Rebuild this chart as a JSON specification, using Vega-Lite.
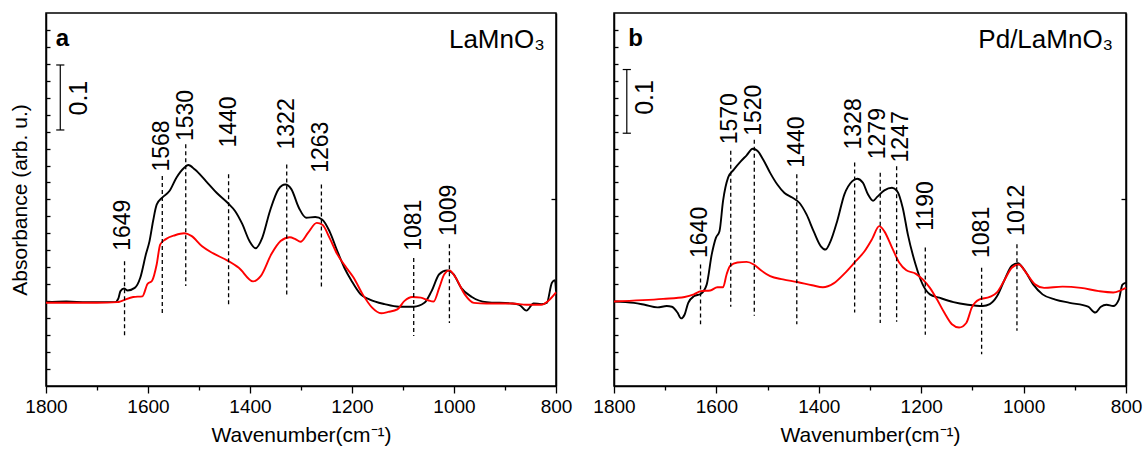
{
  "$schema": "https://vega.github.io/schema/vega-lite/v6.json",
  "background": "white",
  "autosize": {"type": "pad"},
  "padding": {"left": 8, "top": 12, "right": 5, "bottom": 5},
  "spacing": 58,
  "bounds": "flush",
  "config": {
    "font": "Liberation Sans",
    "view": {"stroke": "black", "strokeWidth": 1.5},
    "axis": {"grid": false, "domainColor": "black", "domainWidth": 1.5, "tickColor": "black", "tickWidth": 1.3, "labelColor": "black", "titleColor": "black", "labelFont": "Liberation Sans", "titleFont": "Liberation Sans", "titleFontWeight": "normal"}
  },
  "datasets": {
    "curves": [
      {"panel":"a","series":"s1","wn":1800,"abs":0.129},{"panel":"a","series":"s1","wn":1760,"abs":0.130},{"panel":"a","series":"s1","wn":1720,"abs":0.129},{"panel":"a","series":"s1","wn":1690,"abs":0.129},{"panel":"a","series":"s1","wn":1665,"abs":0.129},{"panel":"a","series":"s1","wn":1658,"abs":0.135},{"panel":"a","series":"s1","wn":1654,"abs":0.146},{"panel":"a","series":"s1","wn":1647,"abs":0.150},{"panel":"a","series":"s1","wn":1640,"abs":0.147},{"panel":"a","series":"s1","wn":1626,"abs":0.151},{"panel":"a","series":"s1","wn":1615,"abs":0.167},{"panel":"a","series":"s1","wn":1604,"abs":0.203},{"panel":"a","series":"s1","wn":1597,"abs":0.223},{"panel":"a","series":"s1","wn":1590,"abs":0.254},{"panel":"a","series":"s1","wn":1583,"abs":0.279},{"panel":"a","series":"s1","wn":1572,"abs":0.290},{"panel":"a","series":"s1","wn":1558,"abs":0.300},{"panel":"a","series":"s1","wn":1544,"abs":0.321},{"panel":"a","series":"s1","wn":1529,"abs":0.336},{"panel":"a","series":"s1","wn":1521,"abs":0.340},{"panel":"a","series":"s1","wn":1508,"abs":0.333},{"panel":"a","series":"s1","wn":1486,"abs":0.315},{"panel":"a","series":"s1","wn":1465,"abs":0.297},{"panel":"a","series":"s1","wn":1444,"abs":0.282},{"panel":"a","series":"s1","wn":1429,"abs":0.269},{"panel":"a","series":"s1","wn":1415,"abs":0.249},{"panel":"a","series":"s1","wn":1401,"abs":0.223},{"panel":"a","series":"s1","wn":1389,"abs":0.212},{"panel":"a","series":"s1","wn":1376,"abs":0.228},{"panel":"a","series":"s1","wn":1361,"abs":0.269},{"panel":"a","series":"s1","wn":1344,"abs":0.303},{"panel":"a","series":"s1","wn":1331,"abs":0.310},{"panel":"a","series":"s1","wn":1319,"abs":0.303},{"panel":"a","series":"s1","wn":1304,"abs":0.274},{"panel":"a","series":"s1","wn":1290,"abs":0.259},{"panel":"a","series":"s1","wn":1272,"abs":0.260},{"panel":"a","series":"s1","wn":1258,"abs":0.256},{"panel":"a","series":"s1","wn":1244,"abs":0.238},{"panel":"a","series":"s1","wn":1229,"abs":0.208},{"panel":"a","series":"s1","wn":1215,"abs":0.182},{"panel":"a","series":"s1","wn":1201,"abs":0.162},{"panel":"a","series":"s1","wn":1183,"abs":0.141},{"panel":"a","series":"s1","wn":1165,"abs":0.133},{"panel":"a","series":"s1","wn":1136,"abs":0.126},{"panel":"a","series":"s1","wn":1108,"abs":0.122},{"panel":"a","series":"s1","wn":1079,"abs":0.122},{"panel":"a","series":"s1","wn":1058,"abs":0.128},{"panel":"a","series":"s1","wn":1044,"abs":0.146},{"panel":"a","series":"s1","wn":1029,"abs":0.172},{"panel":"a","series":"s1","wn":1014,"abs":0.178},{"panel":"a","series":"s1","wn":1001,"abs":0.172},{"panel":"a","series":"s1","wn":986,"abs":0.151},{"panel":"a","series":"s1","wn":965,"abs":0.137},{"panel":"a","series":"s1","wn":936,"abs":0.129},{"panel":"a","series":"s1","wn":886,"abs":0.127},{"panel":"a","series":"s1","wn":872,"abs":0.125},{"panel":"a","series":"s1","wn":858,"abs":0.116},{"panel":"a","series":"s1","wn":844,"abs":0.127},{"panel":"a","series":"s1","wn":829,"abs":0.126},{"panel":"a","series":"s1","wn":818,"abs":0.128},{"panel":"a","series":"s1","wn":808,"abs":0.159},{"panel":"a","series":"s1","wn":802,"abs":0.163},{"panel":"a","series":"s1","wn":800,"abs":0.146},
      {"panel":"a","series":"s2","wn":1800,"abs":0.128},{"panel":"a","series":"s2","wn":1700,"abs":0.128},{"panel":"a","series":"s2","wn":1660,"abs":0.129},{"panel":"a","series":"s2","wn":1651,"abs":0.131},{"panel":"a","series":"s2","wn":1629,"abs":0.137},{"panel":"a","series":"s2","wn":1611,"abs":0.138},{"panel":"a","series":"s2","wn":1601,"abs":0.157},{"panel":"a","series":"s2","wn":1592,"abs":0.162},{"panel":"a","series":"s2","wn":1583,"abs":0.187},{"panel":"a","series":"s2","wn":1576,"abs":0.218},{"panel":"a","series":"s2","wn":1565,"abs":0.226},{"panel":"a","series":"s2","wn":1547,"abs":0.232},{"panel":"a","series":"s2","wn":1529,"abs":0.235},{"panel":"a","series":"s2","wn":1515,"abs":0.231},{"panel":"a","series":"s2","wn":1494,"abs":0.215},{"panel":"a","series":"s2","wn":1472,"abs":0.204},{"panel":"a","series":"s2","wn":1444,"abs":0.193},{"panel":"a","series":"s2","wn":1422,"abs":0.182},{"panel":"a","series":"s2","wn":1394,"abs":0.161},{"panel":"a","series":"s2","wn":1379,"abs":0.169},{"panel":"a","series":"s2","wn":1358,"abs":0.203},{"panel":"a","series":"s2","wn":1340,"abs":0.223},{"panel":"a","series":"s2","wn":1322,"abs":0.229},{"panel":"a","series":"s2","wn":1311,"abs":0.226},{"panel":"a","series":"s2","wn":1301,"abs":0.222},{"panel":"a","series":"s2","wn":1286,"abs":0.236},{"panel":"a","series":"s2","wn":1269,"abs":0.251},{"panel":"a","series":"s2","wn":1258,"abs":0.248},{"panel":"a","series":"s2","wn":1244,"abs":0.228},{"panel":"a","series":"s2","wn":1229,"abs":0.203},{"panel":"a","series":"s2","wn":1211,"abs":0.182},{"panel":"a","series":"s2","wn":1197,"abs":0.167},{"panel":"a","series":"s2","wn":1179,"abs":0.141},{"panel":"a","series":"s2","wn":1161,"abs":0.121},{"panel":"a","series":"s2","wn":1143,"abs":0.112},{"panel":"a","series":"s2","wn":1129,"abs":0.114},{"panel":"a","series":"s2","wn":1111,"abs":0.118},{"panel":"a","series":"s2","wn":1097,"abs":0.131},{"panel":"a","series":"s2","wn":1082,"abs":0.137},{"panel":"a","series":"s2","wn":1065,"abs":0.136},{"panel":"a","series":"s2","wn":1051,"abs":0.132},{"panel":"a","series":"s2","wn":1040,"abs":0.130},{"panel":"a","series":"s2","wn":1029,"abs":0.151},{"panel":"a","series":"s2","wn":1019,"abs":0.172},{"panel":"a","series":"s2","wn":1009,"abs":0.178},{"panel":"a","series":"s2","wn":997,"abs":0.167},{"panel":"a","series":"s2","wn":979,"abs":0.141},{"panel":"a","series":"s2","wn":961,"abs":0.128},{"panel":"a","series":"s2","wn":936,"abs":0.127},{"panel":"a","series":"s2","wn":886,"abs":0.127},{"panel":"a","series":"s2","wn":858,"abs":0.125},{"panel":"a","series":"s2","wn":829,"abs":0.125},{"panel":"a","series":"s2","wn":815,"abs":0.131},{"panel":"a","series":"s2","wn":800,"abs":0.144},
      {"panel":"b","series":"s1","wn":1800,"abs":0.130},{"panel":"b","series":"s1","wn":1761,"abs":0.128},{"panel":"b","series":"s1","wn":1740,"abs":0.125},{"panel":"b","series":"s1","wn":1715,"abs":0.121},{"panel":"b","series":"s1","wn":1697,"abs":0.123},{"panel":"b","series":"s1","wn":1687,"abs":0.122},{"panel":"b","series":"s1","wn":1676,"abs":0.113},{"panel":"b","series":"s1","wn":1669,"abs":0.104},{"panel":"b","series":"s1","wn":1662,"abs":0.110},{"panel":"b","series":"s1","wn":1655,"abs":0.128},{"panel":"b","series":"s1","wn":1644,"abs":0.138},{"panel":"b","series":"s1","wn":1630,"abs":0.142},{"panel":"b","series":"s1","wn":1619,"abs":0.156},{"panel":"b","series":"s1","wn":1609,"abs":0.203},{"panel":"b","series":"s1","wn":1601,"abs":0.228},{"panel":"b","series":"s1","wn":1594,"abs":0.238},{"panel":"b","series":"s1","wn":1587,"abs":0.285},{"panel":"b","series":"s1","wn":1577,"abs":0.321},{"panel":"b","series":"s1","wn":1566,"abs":0.333},{"panel":"b","series":"s1","wn":1552,"abs":0.346},{"panel":"b","series":"s1","wn":1541,"abs":0.355},{"panel":"b","series":"s1","wn":1529,"abs":0.365},{"panel":"b","series":"s1","wn":1520,"abs":0.362},{"panel":"b","series":"s1","wn":1509,"abs":0.349},{"panel":"b","series":"s1","wn":1495,"abs":0.328},{"panel":"b","series":"s1","wn":1481,"abs":0.310},{"panel":"b","series":"s1","wn":1467,"abs":0.297},{"panel":"b","series":"s1","wn":1452,"abs":0.290},{"panel":"b","series":"s1","wn":1438,"abs":0.282},{"panel":"b","series":"s1","wn":1424,"abs":0.264},{"panel":"b","series":"s1","wn":1410,"abs":0.238},{"panel":"b","series":"s1","wn":1396,"abs":0.215},{"panel":"b","series":"s1","wn":1387,"abs":0.210},{"panel":"b","series":"s1","wn":1378,"abs":0.221},{"panel":"b","series":"s1","wn":1364,"abs":0.254},{"panel":"b","series":"s1","wn":1350,"abs":0.295},{"panel":"b","series":"s1","wn":1335,"abs":0.315},{"panel":"b","series":"s1","wn":1325,"abs":0.319},{"panel":"b","series":"s1","wn":1314,"abs":0.313},{"panel":"b","series":"s1","wn":1304,"abs":0.295},{"panel":"b","series":"s1","wn":1294,"abs":0.285},{"panel":"b","series":"s1","wn":1286,"abs":0.291},{"panel":"b","series":"s1","wn":1272,"abs":0.301},{"panel":"b","series":"s1","wn":1257,"abs":0.305},{"panel":"b","series":"s1","wn":1247,"abs":0.300},{"panel":"b","series":"s1","wn":1236,"abs":0.274},{"panel":"b","series":"s1","wn":1226,"abs":0.233},{"panel":"b","series":"s1","wn":1211,"abs":0.187},{"panel":"b","series":"s1","wn":1197,"abs":0.156},{"panel":"b","series":"s1","wn":1183,"abs":0.141},{"panel":"b","series":"s1","wn":1165,"abs":0.136},{"panel":"b","series":"s1","wn":1137,"abs":0.129},{"panel":"b","series":"s1","wn":1109,"abs":0.125},{"panel":"b","series":"s1","wn":1080,"abs":0.123},{"panel":"b","series":"s1","wn":1066,"abs":0.126},{"panel":"b","series":"s1","wn":1052,"abs":0.138},{"panel":"b","series":"s1","wn":1038,"abs":0.162},{"panel":"b","series":"s1","wn":1023,"abs":0.185},{"panel":"b","series":"s1","wn":1011,"abs":0.189},{"panel":"b","series":"s1","wn":999,"abs":0.179},{"panel":"b","series":"s1","wn":981,"abs":0.156},{"panel":"b","series":"s1","wn":963,"abs":0.141},{"panel":"b","series":"s1","wn":938,"abs":0.133},{"panel":"b","series":"s1","wn":910,"abs":0.128},{"panel":"b","series":"s1","wn":874,"abs":0.122},{"panel":"b","series":"s1","wn":860,"abs":0.113},{"panel":"b","series":"s1","wn":849,"abs":0.122},{"panel":"b","series":"s1","wn":838,"abs":0.125},{"panel":"b","series":"s1","wn":825,"abs":0.123},{"panel":"b","series":"s1","wn":814,"abs":0.133},{"panel":"b","series":"s1","wn":807,"abs":0.156},{"panel":"b","series":"s1","wn":800,"abs":0.159},
      {"panel":"b","series":"s2","wn":1800,"abs":0.130},{"panel":"b","series":"s2","wn":1704,"abs":0.134},{"panel":"b","series":"s2","wn":1662,"abs":0.137},{"panel":"b","series":"s2","wn":1644,"abs":0.141},{"panel":"b","series":"s2","wn":1630,"abs":0.146},{"panel":"b","series":"s2","wn":1612,"abs":0.147},{"panel":"b","series":"s2","wn":1598,"abs":0.152},{"panel":"b","series":"s2","wn":1587,"abs":0.152},{"panel":"b","series":"s2","wn":1580,"abs":0.172},{"panel":"b","series":"s2","wn":1573,"abs":0.185},{"panel":"b","series":"s2","wn":1559,"abs":0.190},{"panel":"b","series":"s2","wn":1541,"abs":0.191},{"panel":"b","series":"s2","wn":1527,"abs":0.187},{"panel":"b","series":"s2","wn":1513,"abs":0.178},{"panel":"b","series":"s2","wn":1495,"abs":0.169},{"panel":"b","series":"s2","wn":1470,"abs":0.164},{"panel":"b","series":"s2","wn":1442,"abs":0.160},{"panel":"b","series":"s2","wn":1413,"abs":0.155},{"panel":"b","series":"s2","wn":1392,"abs":0.152},{"panel":"b","series":"s2","wn":1371,"abs":0.158},{"panel":"b","series":"s2","wn":1350,"abs":0.173},{"panel":"b","series":"s2","wn":1328,"abs":0.192},{"panel":"b","series":"s2","wn":1311,"abs":0.207},{"panel":"b","series":"s2","wn":1296,"abs":0.226},{"panel":"b","series":"s2","wn":1282,"abs":0.246},{"panel":"b","series":"s2","wn":1272,"abs":0.238},{"panel":"b","series":"s2","wn":1257,"abs":0.213},{"panel":"b","series":"s2","wn":1243,"abs":0.190},{"panel":"b","series":"s2","wn":1229,"abs":0.178},{"panel":"b","series":"s2","wn":1211,"abs":0.173},{"panel":"b","series":"s2","wn":1197,"abs":0.164},{"panel":"b","series":"s2","wn":1183,"abs":0.151},{"panel":"b","series":"s2","wn":1169,"abs":0.133},{"panel":"b","series":"s2","wn":1155,"abs":0.113},{"panel":"b","series":"s2","wn":1140,"abs":0.095},{"panel":"b","series":"s2","wn":1126,"abs":0.090},{"panel":"b","series":"s2","wn":1112,"abs":0.097},{"panel":"b","series":"s2","wn":1101,"abs":0.121},{"panel":"b","series":"s2","wn":1087,"abs":0.133},{"panel":"b","series":"s2","wn":1066,"abs":0.137},{"panel":"b","series":"s2","wn":1052,"abs":0.144},{"panel":"b","series":"s2","wn":1038,"abs":0.162},{"panel":"b","series":"s2","wn":1023,"abs":0.182},{"panel":"b","series":"s2","wn":1009,"abs":0.187},{"panel":"b","series":"s2","wn":995,"abs":0.174},{"panel":"b","series":"s2","wn":977,"abs":0.156},{"panel":"b","series":"s2","wn":960,"abs":0.151},{"panel":"b","series":"s2","wn":924,"abs":0.153},{"panel":"b","series":"s2","wn":888,"abs":0.151},{"panel":"b","series":"s2","wn":853,"abs":0.146},{"panel":"b","series":"s2","wn":825,"abs":0.144},{"panel":"b","series":"s2","wn":811,"abs":0.147},{"panel":"b","series":"s2","wn":800,"abs":0.151}
    ],
    "peaks": [
      {"panel":"a","label":"1649","pos":1646,"tx":1649,"top":0.192,"bottom":0.077,"ly":0.208},
      {"panel":"a","label":"1568","pos":1572,"tx":1572,"top":0.323,"bottom":0.108,"ly":0.330},
      {"panel":"a","label":"1530","pos":1526,"tx":1526,"top":0.372,"bottom":0.154,"ly":0.377},
      {"panel":"a","label":"1440","pos":1442,"tx":1442,"top":0.326,"bottom":0.122,"ly":0.367},
      {"panel":"a","label":"1322","pos":1328,"tx":1328,"top":0.341,"bottom":0.137,"ly":0.364},
      {"panel":"a","label":"1263","pos":1260,"tx":1260,"top":0.310,"bottom":0.152,"ly":0.328},
      {"panel":"a","label":"1081","pos":1079,"tx":1079,"top":0.197,"bottom":0.077,"ly":0.208},
      {"panel":"a","label":"1009","pos":1009,"tx":1009,"top":0.218,"bottom":0.097,"ly":0.231},
      {"panel":"b","label":"1640","pos":1631,"tx":1633,"top":0.187,"bottom":0.095,"ly":0.197},
      {"panel":"b","label":"1570","pos":1572,"tx":1574,"top":0.362,"bottom":0.122,"ly":0.372},
      {"panel":"b","label":"1520","pos":1526,"tx":1526,"top":0.379,"bottom":0.108,"ly":0.385},
      {"panel":"b","label":"1440","pos":1443,"tx":1443,"top":0.326,"bottom":0.095,"ly":0.336},
      {"panel":"b","label":"1328","pos":1330,"tx":1331,"top":0.344,"bottom":0.113,"ly":0.364},
      {"panel":"b","label":"1279","pos":1280,"tx":1284,"top":0.328,"bottom":0.097,"ly":0.349},
      {"panel":"b","label":"1247","pos":1248,"tx":1239,"top":0.338,"bottom":0.099,"ly":0.344},
      {"panel":"b","label":"1190","pos":1192,"tx":1190,"top":0.213,"bottom":0.079,"ly":0.239},
      {"panel":"b","label":"1081","pos":1082,"tx":1082,"top":0.182,"bottom":0.049,"ly":0.197},
      {"panel":"b","label":"1012","pos":1013,"tx":1013,"top":0.218,"bottom":0.085,"ly":0.231}
    ],
    "bars": [
      {"panel":"a","x1":1772,"x2":1772,"y1":0.394,"y2":0.494},
      {"panel":"a","x1":1780,"x2":1764,"y1":0.394,"y2":0.394},
      {"panel":"a","x1":1780,"x2":1764,"y1":0.494,"y2":0.494},
      {"panel":"b","x1":1775,"x2":1775,"y1":0.389,"y2":0.487},
      {"panel":"b","x1":1783,"x2":1767,"y1":0.389,"y2":0.389},
      {"panel":"b","x1":1783,"x2":1767,"y1":0.487,"y2":0.487}
    ],
    "tags": [
      {"panel":"a","letter":"a","lx":1781,"ly":0.523,"name":"LaMnO₃","nx":822,"ny":0.520,"scale":"0.1","sx":1735,"sy":0.443},
      {"panel":"b","letter":"b","lx":1772,"ly":0.523,"name":"Pd/LaMnO₃","nx":825,"ny":0.520,"scale":"0.1","sx":1740,"sy":0.444}
    ]
  },
  "hconcat": [
    {
      "width": 510,
      "height": 373,
      "layer": [
        {
          "data": {"name": "curves"},
          "transform": [{"filter": "datum.panel === 'a'"}],
          "mark": {"type": "line", "strokeWidth": 1.9, "interpolate": "monotone"},
          "encoding": {
            "x": {"field": "wn", "type": "quantitative", "scale": {"domain": [800, 1800], "reverse": true, "nice": false},
              "axis": {"values": [800,900,1000,1100,1200,1300,1400,1500,1600,1700,1800], "format": "d", "tickSize": {"condition": {"test": "datum.value % 200 === 0", "value": 7}, "value": 4}, "labelExpr": "datum.value % 200 === 0 ? datum.label : ''", "labelFontSize": 19, "labelPadding": 4, "labelFlush": false, "labelOverlap": false, "title": "Wavenumber(cm⁻¹)", "titleFontSize": 21, "titlePadding": 8}},
            "y": {"field": "abs", "type": "quantitative", "scale": {"domain": [0, 0.574], "nice": false, "zero": false},
              "axis": {"orient": "left", "values": [0.0261,0.0522,0.0783,0.1044,0.1305,0.1566,0.1827,0.2088,0.2349,0.261,0.2871,0.3132,0.3393,0.3654,0.3915,0.4176,0.4437,0.4698,0.4959,0.522,0.5481], "labels": false, "tickSize": -4, "title": "Absorbance (arb. u.)", "titleFontSize": 21, "titlePadding": 15}},
            "color": {"field": "series", "type": "nominal", "scale": {"domain": ["s1", "s2"], "range": ["#000000", "#ff0000"]}, "legend": null}
          }
        },
        {
          "data": {"name": "peaks"},
          "transform": [{"filter": "datum.panel === 'a'"}],
          "mark": {"type": "rule", "color": "black", "strokeWidth": 1.3, "strokeDash": [4, 3]},
          "encoding": {
            "x": {"field": "pos", "type": "quantitative"},
            "y": {"field": "top", "type": "quantitative", "axis": {"orient": "right", "values": [0.2871], "labels": false, "tickSize": -5, "title": null}},
            "y2": {"field": "bottom"}
          }
        },
        {
          "data": {"name": "peaks"},
          "transform": [{"filter": "datum.panel === 'a'"}],
          "mark": {"type": "text", "angle": 270, "align": "left", "baseline": "middle", "fontSize": 23, "color": "black"},
          "encoding": {
            "x": {"field": "tx", "type": "quantitative"},
            "y": {"field": "ly", "type": "quantitative", "axis": null},
            "text": {"field": "label"}
          }
        },
        {
          "data": {"name": "bars"},
          "transform": [{"filter": "datum.panel === 'a'"}],
          "mark": {"type": "rule", "color": "black", "strokeWidth": 1.2},
          "encoding": {
            "x": {"field": "x1", "type": "quantitative"},
            "x2": {"field": "x2"},
            "y": {"field": "y1", "type": "quantitative", "axis": null},
            "y2": {"field": "y2"}
          }
        },
        {
          "data": {"name": "tags"},
          "transform": [{"filter": "datum.panel === 'a'"}],
          "mark": {"type": "text", "angle": 270, "align": "center", "baseline": "middle", "fontSize": 25, "color": "black"},
          "encoding": {
            "x": {"field": "sx", "type": "quantitative"},
            "y": {"field": "sy", "type": "quantitative", "axis": null},
            "text": {"field": "scale"}
          }
        },
        {
          "data": {"name": "tags"},
          "transform": [{"filter": "datum.panel === 'a'"}],
          "mark": {"type": "text", "align": "left", "baseline": "alphabetic", "fontSize": 24, "fontWeight": "bold", "color": "black"},
          "encoding": {
            "x": {"field": "lx", "type": "quantitative"},
            "y": {"field": "ly", "type": "quantitative", "axis": null},
            "text": {"field": "letter"}
          }
        },
        {
          "data": {"name": "tags"},
          "transform": [{"filter": "datum.panel === 'a'"}],
          "mark": {"type": "text", "align": "right", "baseline": "alphabetic", "fontSize": 26, "color": "black"},
          "encoding": {
            "x": {"field": "nx", "type": "quantitative"},
            "y": {"field": "ny", "type": "quantitative", "axis": null},
            "text": {"field": "name"}
          }
        }
      ],
      "resolve": {"axis": {"y": "independent"}}
    },
    {
      "width": 512,
      "height": 373,
      "layer": [
        {
          "data": {"name": "curves"},
          "transform": [{"filter": "datum.panel === 'b'"}],
          "mark": {"type": "line", "strokeWidth": 1.9, "interpolate": "monotone"},
          "encoding": {
            "x": {"field": "wn", "type": "quantitative", "scale": {"domain": [800, 1800], "reverse": true, "nice": false},
              "axis": {"values": [800,900,1000,1100,1200,1300,1400,1500,1600,1700,1800], "format": "d", "tickSize": {"condition": {"test": "datum.value % 200 === 0", "value": 7}, "value": 4}, "labelExpr": "datum.value % 200 === 0 ? datum.label : ''", "labelFontSize": 19, "labelPadding": 4, "labelFlush": false, "labelOverlap": false, "title": "Wavenumber(cm⁻¹)", "titleFontSize": 21, "titlePadding": 8}},
            "y": {"field": "abs", "type": "quantitative", "scale": {"domain": [0, 0.574], "nice": false, "zero": false},
              "axis": {"orient": "left", "values": [0.0261,0.0522,0.0783,0.1044,0.1305,0.1566,0.1827,0.2088,0.2349,0.261,0.2871,0.3132,0.3393,0.3654,0.3915,0.4176,0.4437,0.4698,0.4959,0.522,0.5481], "labels": false, "tickSize": -4, "title": null}},
            "color": {"field": "series", "type": "nominal", "scale": {"domain": ["s1", "s2"], "range": ["#000000", "#ff0000"]}, "legend": null}
          }
        },
        {
          "data": {"name": "peaks"},
          "transform": [{"filter": "datum.panel === 'b'"}],
          "mark": {"type": "rule", "color": "black", "strokeWidth": 1.3, "strokeDash": [4, 3]},
          "encoding": {
            "x": {"field": "pos", "type": "quantitative"},
            "y": {"field": "top", "type": "quantitative", "axis": {"orient": "right", "values": [0.2871], "labels": false, "tickSize": -5, "title": null}},
            "y2": {"field": "bottom"}
          }
        },
        {
          "data": {"name": "peaks"},
          "transform": [{"filter": "datum.panel === 'b'"}],
          "mark": {"type": "text", "angle": 270, "align": "left", "baseline": "middle", "fontSize": 23, "color": "black"},
          "encoding": {
            "x": {"field": "tx", "type": "quantitative"},
            "y": {"field": "ly", "type": "quantitative", "axis": null},
            "text": {"field": "label"}
          }
        },
        {
          "data": {"name": "bars"},
          "transform": [{"filter": "datum.panel === 'b'"}],
          "mark": {"type": "rule", "color": "black", "strokeWidth": 1.2},
          "encoding": {
            "x": {"field": "x1", "type": "quantitative"},
            "x2": {"field": "x2"},
            "y": {"field": "y1", "type": "quantitative", "axis": null},
            "y2": {"field": "y2"}
          }
        },
        {
          "data": {"name": "tags"},
          "transform": [{"filter": "datum.panel === 'b'"}],
          "mark": {"type": "text", "angle": 270, "align": "center", "baseline": "middle", "fontSize": 25, "color": "black"},
          "encoding": {
            "x": {"field": "sx", "type": "quantitative"},
            "y": {"field": "sy", "type": "quantitative", "axis": null},
            "text": {"field": "scale"}
          }
        },
        {
          "data": {"name": "tags"},
          "transform": [{"filter": "datum.panel === 'b'"}],
          "mark": {"type": "text", "align": "left", "baseline": "alphabetic", "fontSize": 24, "fontWeight": "bold", "color": "black"},
          "encoding": {
            "x": {"field": "lx", "type": "quantitative"},
            "y": {"field": "ly", "type": "quantitative", "axis": null},
            "text": {"field": "letter"}
          }
        },
        {
          "data": {"name": "tags"},
          "transform": [{"filter": "datum.panel === 'b'"}],
          "mark": {"type": "text", "align": "right", "baseline": "alphabetic", "fontSize": 26, "color": "black"},
          "encoding": {
            "x": {"field": "nx", "type": "quantitative"},
            "y": {"field": "ny", "type": "quantitative", "axis": null},
            "text": {"field": "name"}
          }
        }
      ],
      "resolve": {"axis": {"y": "independent"}}
    }
  ]
}
